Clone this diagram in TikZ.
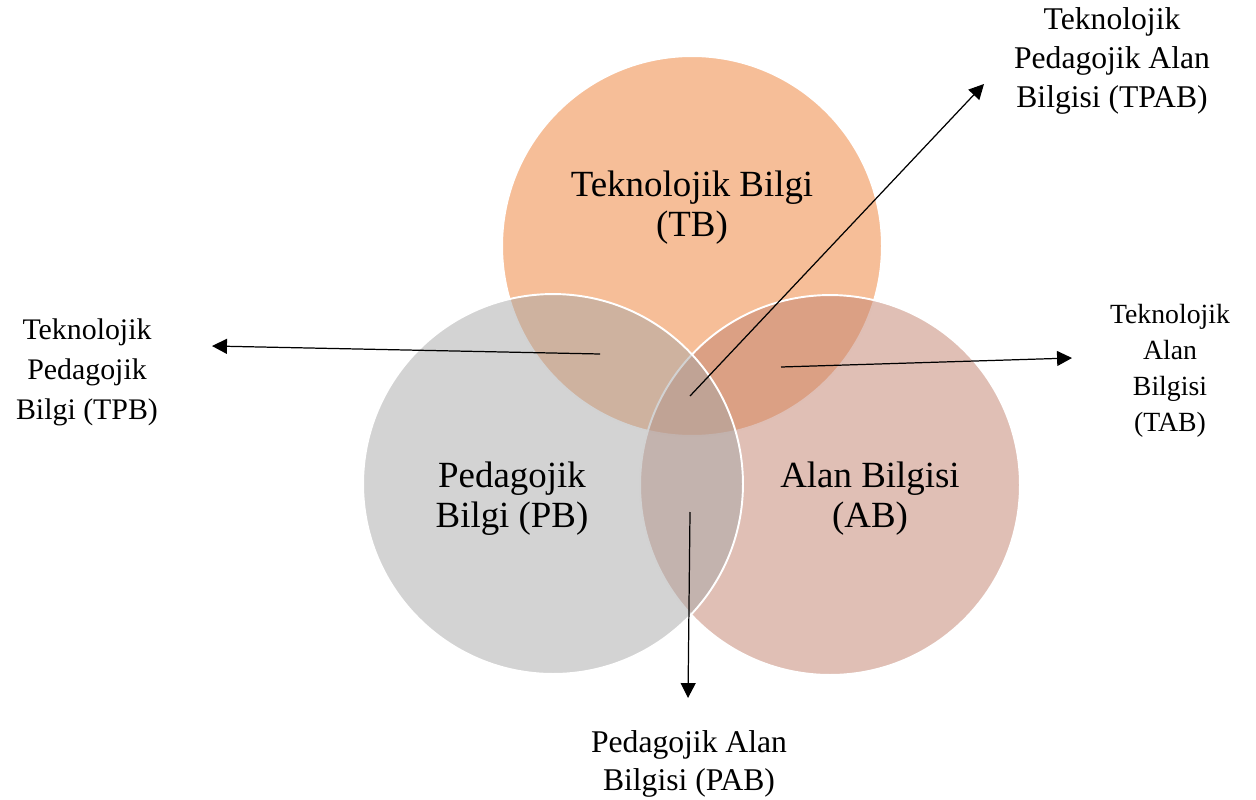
\documentclass[tikz,border=0pt]{standalone}
\usepackage{fontspec}
\setmainfont{Liberation Serif}
\usetikzlibrary{arrows.meta}

\definecolor{tbcolor}{RGB}{246,190,152}
\definecolor{abcolor}{RGB}{196,134,115}
\definecolor{pbcolor}{RGB}{167,167,167}

\begin{document}
\begin{tikzpicture}[
    x=0.02cm, y=-0.02cm,
    set/.style={circle, minimum size=7.6cm, draw=white, line width=1.1pt},
    biglabel/.style={align=center, font=\fontsize{21}{22.8}\selectfont},
    smalllabel/.style={align=center, font=\fontsize{18}{22.2}\selectfont},
    arrow/.style={-{Triangle[length=8.5pt,width=8.5pt]}, line width=0.7pt}
]
\useasboundingbox (0,0) rectangle (1256,800);

% Circles: TB, AB, PB
\node[set, fill=tbcolor] (tb) at (692,246) {};
\node[set, fill=abcolor, fill opacity=0.53] (ab) at (830,485) {};
\node[set, fill=pbcolor, fill opacity=0.5] (pb) at (553,484) {};

% Circle labels
\node[biglabel] (tbtext) at (692,208) {Teknolojik Bilgi\\(TB)};
\node[biglabel] (pbtext) at (512,499) {Pedagojik\\Bilgi (PB)};
\node[biglabel] (abtext) at (870,499) {Alan Bilgisi\\(AB)};

% Outer labels
\node[smalllabel] (tpab) at (1112,61) {Teknolojik\\Pedagojik Alan\\Bilgisi (TPAB)};
\node[smalllabel, font=\fontsize{17}{22.8}\selectfont] (tpb) at (87,372) {Teknolojik\\Pedagojik\\Bilgi (TPB)};
\node[smalllabel, font=\fontsize{15.8}{20.5}\selectfont] (tab) at (1170,371) {Teknolojik\\Alan\\Bilgisi\\(TAB)};
\node[smalllabel, font=\fontsize{18}{21.6}\selectfont] (pab) at (689,764) {Pedagojik Alan\\Bilgisi (PAB)};

% Arrow ends
\coordinate (tpbfrom) at (600,354);
\coordinate (tpbto) at (212,346);
\coordinate (tabfrom) at (781,367);
\coordinate (tabto) at (1072,358);
\coordinate (tpabfrom) at (690,396);
\coordinate (tpabto) at (984,84);
\coordinate (pabfrom) at (690,512);
\coordinate (pabto) at (688,698);

% Arrows to the outer labels
\draw[arrow] (tpbfrom) -- (tpbto);
\draw[arrow] (tabfrom) -- (tabto);
\draw[arrow] (tpabfrom) -- (tpabto);
\draw[arrow] (pabfrom) -- (pabto);

\end{tikzpicture}
\end{document}
